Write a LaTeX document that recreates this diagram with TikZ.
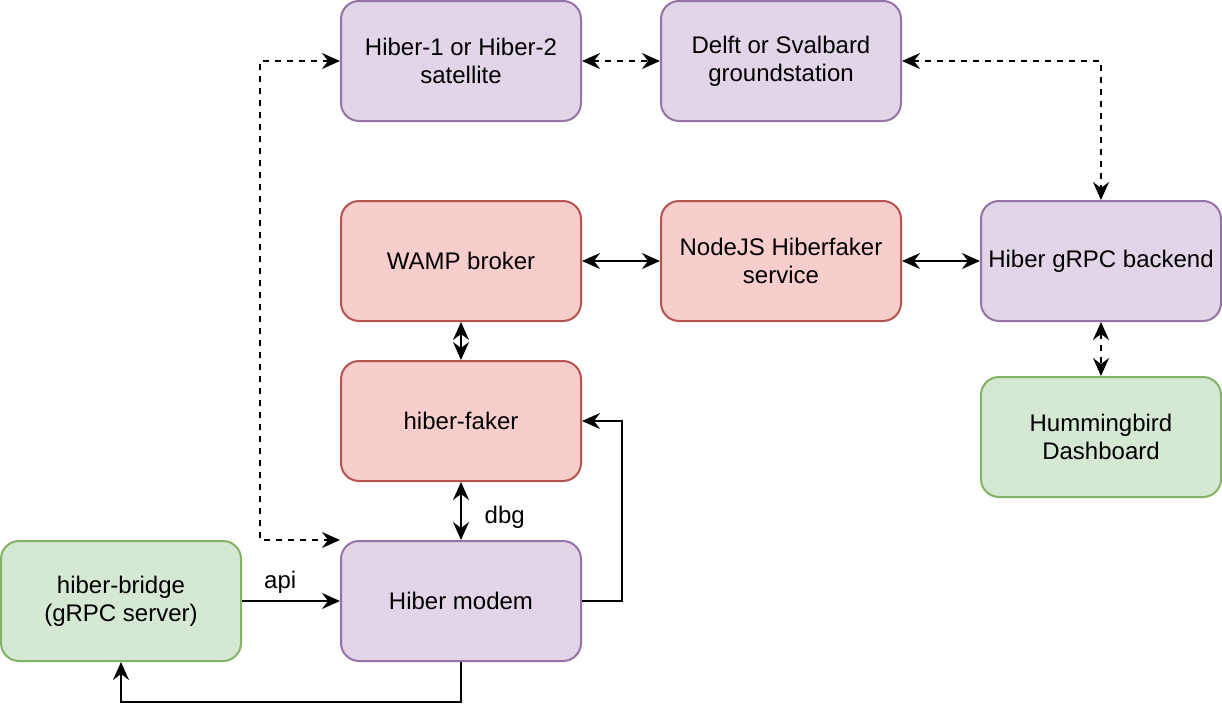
\documentclass[tikz,border=0pt]{standalone}
\usepackage{fontspec}
\setmainfont{Liberation Sans}
\usepackage{tikz}
\usetikzlibrary{arrows.meta, positioning}
\definecolor{purpfill}{HTML}{E1D5E7}
\definecolor{purpline}{HTML}{9673A6}
\definecolor{redfill}{HTML}{F8CECC}
\definecolor{redline}{HTML}{B85450}
\definecolor{grnfill}{HTML}{D5E8D4}
\definecolor{grnline}{HTML}{82B366}

\begin{document}
\begin{tikzpicture}[x=0.5pt, y=-0.5pt, line width=1pt,
	>={Stealth[length=9pt, width=8pt, inset=3pt]},
	box/.style={rectangle, rounded corners=9pt, line width=1pt, minimum width=120pt, minimum height=60pt, align=center, font=\fontsize{12}{14}\selectfont},
	purp/.style={box, draw=purpline, fill=purpfill},
	redb/.style={box, draw=redline, fill=redfill},
	grn/.style={box, draw=grnline, fill=grnfill},
	dl/.style={dash pattern=on 3pt off 3pt},
	lbl/.style={font=\fontsize{12}{14}\selectfont}]
	\useasboundingbox (0,0) rectangle (1222,718);
	% boxes
	\node[purp] (sat) at (461,61) {Hiber-1 or Hiber-2\\satellite};
	\node[purp] (gs) at (781,61) {Delft or Svalbard\\groundstation};
	\node[redb] (wamp) at (461,261) {WAMP broker};
	\node[redb] (nodejs) at (781,261) {NodeJS Hiberfaker\\service};
	\node[purp] (backend) at (1101,261) {Hiber gRPC backend};
	\node[grn] (dash) at (1101,437) {Hummingbird\\Dashboard};
	\node[redb] (faker) at (461,421) {hiber-faker};
	\node[purp] (modem) at (461,601) {Hiber modem};
	\node[grn] (bridge) at (121,601) {hiber-bridge\\(gRPC server)};
	% radio links
	\draw[dl, <->] (sat) -- (gs);
	\draw[dl, <->] (gs.east) -| (backend.north);
	\draw[dl, <->] (sat.west) -- ++(-80,0) |- (modem.north west);
	\draw[dl, <->] (backend) -- (dash);
	% wired links
	\draw[<->] (wamp) -- (nodejs);
	\draw[<->] (nodejs) -- (backend);
	\draw[<->] (wamp) -- (faker);
	\draw[<->] (faker) -- node[lbl, pos=0.6, right=8pt] {dbg} (modem);
	\draw[->] (bridge) -- node[lbl, pos=0.39, above] {api} (modem);
	\draw[->] (modem.east) -- ++(40,0) |- (faker.east);
	\draw[->] (modem.south) -- ++(0,40) -| (bridge.south);
\end{tikzpicture}
\end{document}
